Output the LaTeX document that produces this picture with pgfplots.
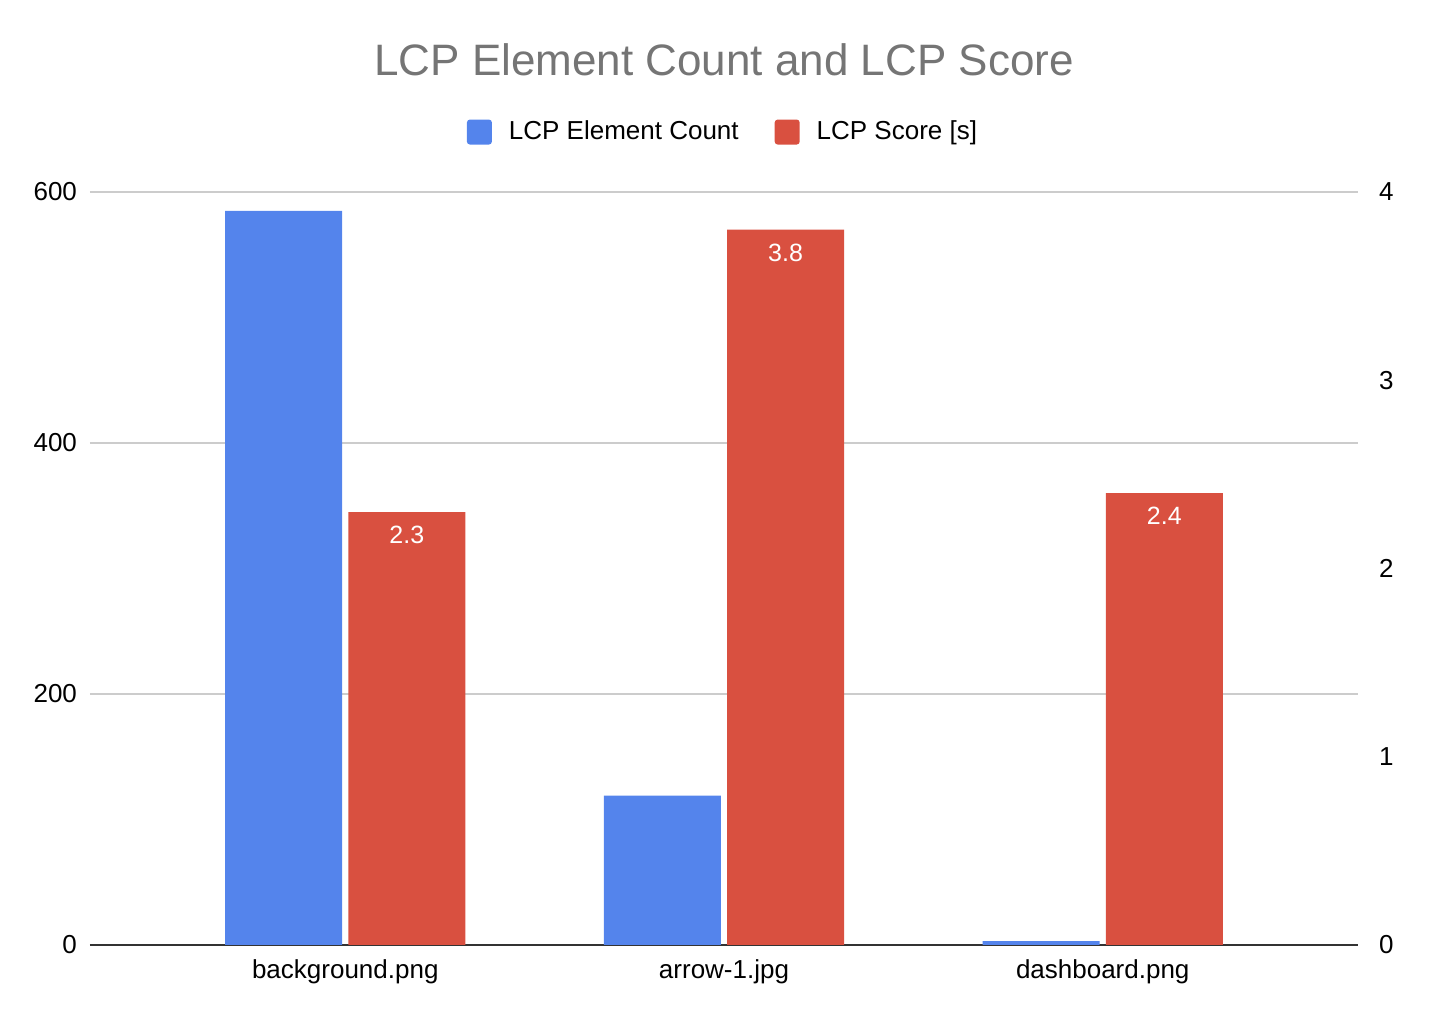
\documentclass[border=0pt]{standalone}
\usepackage{pgfplots}
\pgfplotsset{compat=1.18}
\usepackage{fontspec}
\setmainfont{Liberation Sans}
\definecolor{cblue}{HTML}{5484EC}
\definecolor{cred}{HTML}{D95040}
\definecolor{cgrid}{HTML}{CCCCCC}
\definecolor{caxis}{HTML}{333333}
\definecolor{ctitle}{HTML}{757575}
\begin{document}
\begin{tikzpicture}
\path[use as bounding box] (0,0) rectangle (724pt,509pt);
\node[text=ctitle, font=\fontsize{22}{26}\selectfont] at (362pt,479pt) {LCP Element Count and LCP Score};
\begin{axis}[
  at={(45pt,36.5pt)}, anchor=south west,
  scale only axis, width=634pt, height=376.5pt,
  xmin=-0.674, xmax=2.674, ymin=0, ymax=600,
  xtick={0,1,2}, xticklabels={background.png,arrow-1.jpg,dashboard.png},
  ytick={0,200,400,600},
  ymajorgrids, grid style={cgrid, line width=1pt},
  axis x line*=bottom, axis y line*=left,
  y axis line style={draw=none},
  x axis line style={draw=caxis, line width=1pt, -},
  major tick length=0pt,
  tick label style={font=\fontsize{13}{15}\selectfont, text=black},
  /pgf/number format/assume math mode=true,
  yticklabel style={anchor=east, xshift=-3pt},
  xticklabel style={anchor=north, yshift=-4pt},
  ybar, bar width=0.309, 
]
\addplot[fill=cblue, draw=none, bar shift=-0.1625] coordinates {(0,585) (1,119) (2,3)};
\end{axis}
\begin{axis}[
  at={(45pt,36.5pt)}, anchor=south west,
  scale only axis, width=634pt, height=376.5pt,
  xmin=-0.674, xmax=2.674, ymin=0, ymax=4,
  xtick=\empty,
  ytick={0,1,2,3,4},
  axis x line=none, axis y line*=right,
  y axis line style={draw=none},
  major tick length=0pt,
  tick label style={font=\fontsize{13}{15}\selectfont, text=black},
  /pgf/number format/assume math mode=true,
  yticklabel style={anchor=west, xshift=7pt},
  ybar, bar width=0.309,
  legend columns=2,
  legend style={at={(0.5,1.0796)}, anchor=center, draw=none, fill=none,
    font=\fontsize{13}{15}\selectfont,
    /tikz/every odd column/.append style={column sep=6.5pt},
    /tikz/every even column/.append style={column sep=16pt}},
  legend image code/.code={\fill[#1, rounded corners=1.5pt] (0pt,-6.25pt) rectangle (12.5pt,6.25pt);},
  nodes near coords,
  nodes near coords style={text=white, font=\fontsize{12.5}{14}\selectfont, anchor=center, yshift=-11.5pt, /pgf/number format/fixed, /pgf/number format/precision=1, /pgf/number format/fixed zerofill},
]
\addlegendimage{fill=cblue, draw=none}
\addlegendentry{LCP Element Count}
\addplot[fill=cred, draw=none, bar shift=0.1625] coordinates {(0,2.3) (1,3.8) (2,2.4)};
\addlegendentry{LCP Score [s]}
\end{axis}
\end{tikzpicture}
\end{document}
